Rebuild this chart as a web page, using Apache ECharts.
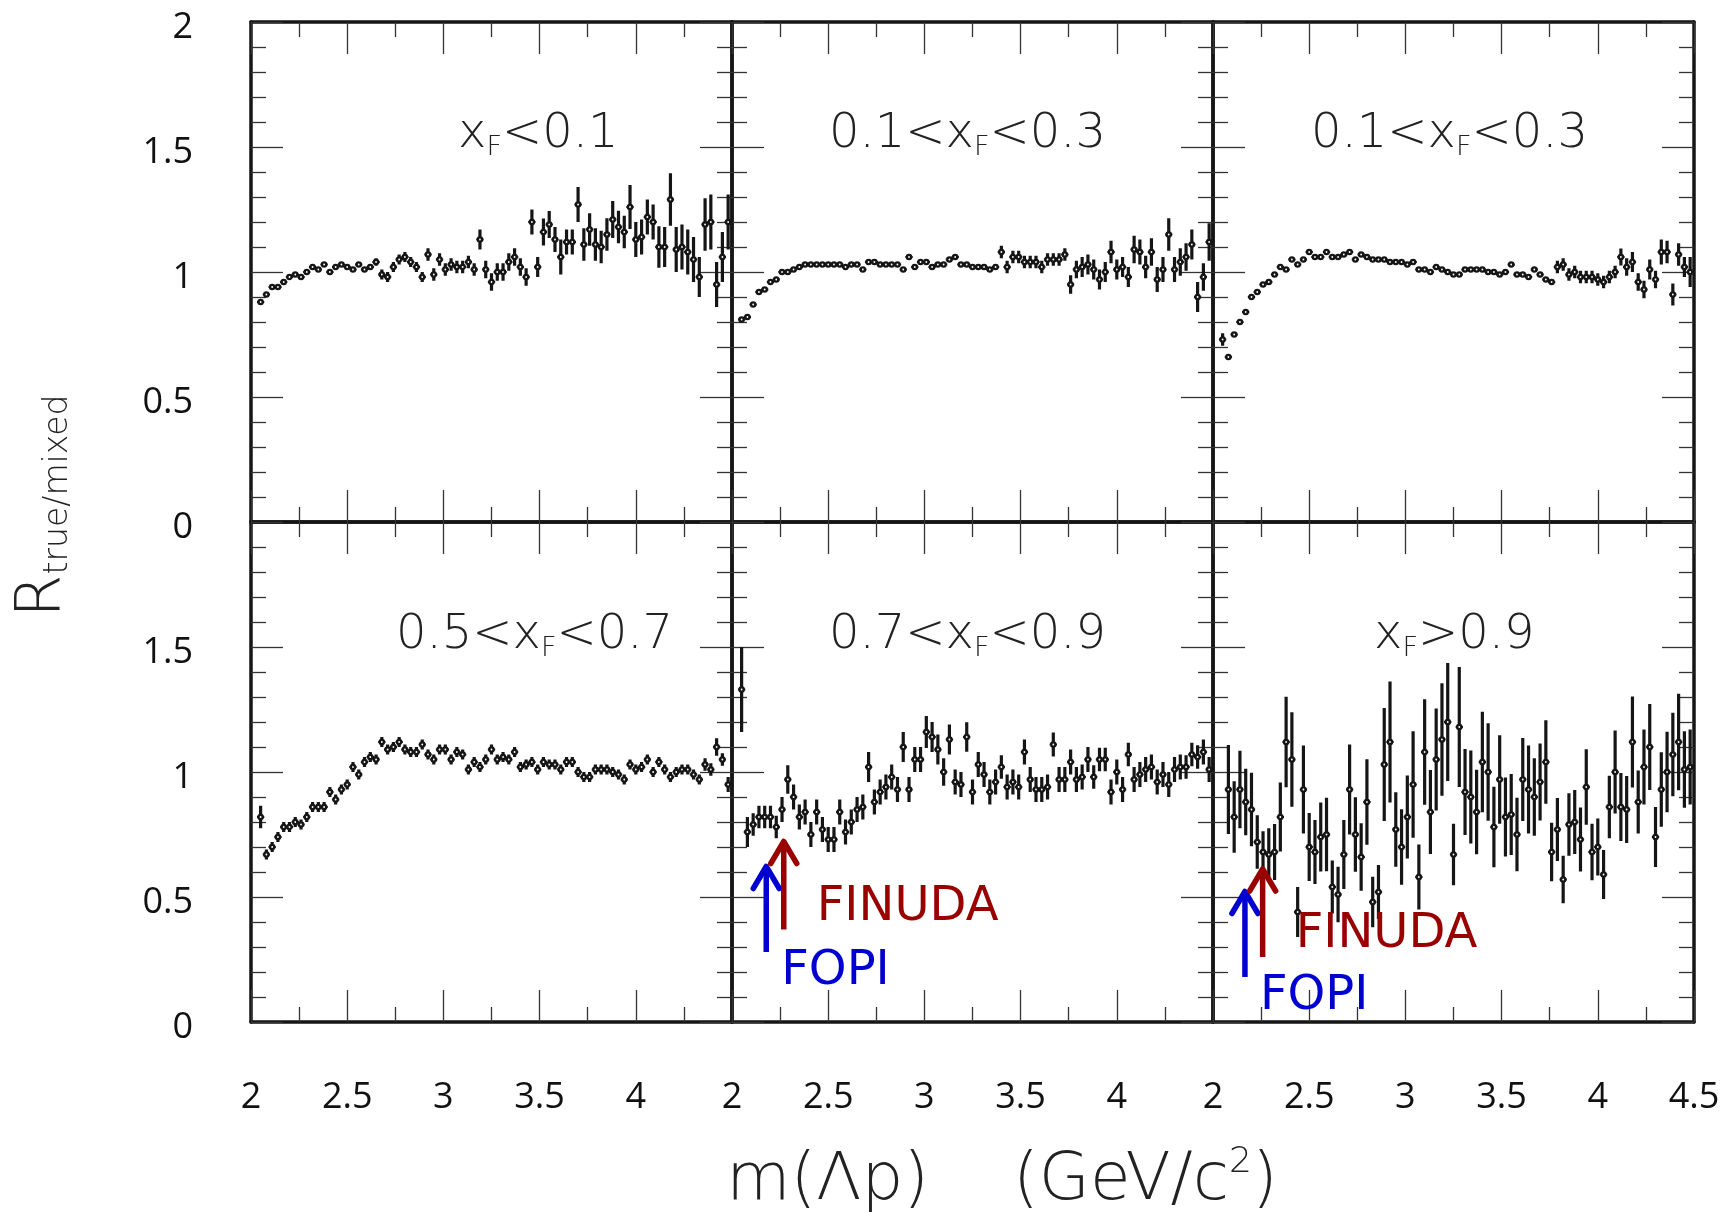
<!DOCTYPE html>
<html>
<head>
<meta charset="utf-8">
<script src="https://cdn.jsdelivr.net/npm/echarts@6/dist/echarts.min.js"></script>
<style>html,body{margin:0;padding:0;background:#fff}#c{width:1727px;height:1212px}</style>
</head>
<body>
<div id="c"></div>
<script>
// ---------------- DATA ----------------
const massBins = [2.05,2.08,2.11,2.14,2.17,2.20,2.23,2.26,2.29,2.32,2.35,2.38,2.41,2.44,2.47,2.50,2.53,2.56,2.59,2.62,2.65,2.68,2.71,2.74,2.77,2.80,2.83,2.86,2.89,2.92,2.95,2.98,3.01,3.04,3.07,3.10,3.13,3.16,3.19,3.22,3.25,3.28,3.31,3.34,3.37,3.40,3.43,3.46,3.49,3.52,3.55,3.58,3.61,3.64,3.67,3.70,3.73,3.76,3.79,3.82,3.85,3.88,3.91,3.94,3.97,4.00,4.03,4.06,4.09,4.12,4.15,4.18,4.21,4.24,4.27,4.30,4.33,4.36,4.39,4.42,4.45,4.48];

const xTickLabels = ['2','2.5','3','3.5','4','4.5'];
const yTickLabels = ['0','0.5','1','1.5','2'];

// panel titles: text before and after "x_F"
const panelTitlePre  = ['', '0.1<', '0.1<', '0.5<', '0.7<', ''];
const panelTitlePost = ['<0.1', '<0.3', '<0.3', '<0.7', '<0.9', '>0.9'];

const ratioXfLt01 = [0.88,0.91,0.94,0.94,0.96,0.98,0.99,0.98,1.00,1.02,1.01,1.03,1.00,1.02,1.03,1.02,1.01,1.03,1.01,1.02,1.04,0.99,0.98,1.02,1.05,1.06,1.04,1.02,0.98,1.07,0.99,1.05,1.01,1.03,1.02,1.02,1.04,1.01,1.13,1.01,0.96,1.00,1.00,1.04,1.06,1.02,0.98,1.20,1.02,1.16,1.19,1.13,1.06,1.12,1.12,1.27,1.11,1.17,1.11,1.10,1.15,1.21,1.18,1.16,1.26,1.13,1.14,1.22,1.20,1.10,1.10,1.29,1.09,1.10,1.08,1.05,0.98,1.19,1.20,0.95,1.06,1.20];
const errXfLt01 = [0.006,0.006,0.006,0.006,0.006,0.006,0.006,0.006,0.006,0.006,0.006,0.006,0.008,0.008,0.008,0.008,0.008,0.008,0.008,0.012,0.015,0.02,0.02,0.02,0.02,0.02,0.02,0.02,0.02,0.025,0.025,0.025,0.025,0.025,0.025,0.025,0.025,0.025,0.04,0.035,0.035,0.035,0.035,0.035,0.035,0.035,0.035,0.05,0.04,0.054,0.054,0.05,0.07,0.05,0.05,0.07,0.065,0.065,0.065,0.065,0.065,0.074,0.065,0.065,0.088,0.07,0.07,0.07,0.07,0.083,0.08,0.105,0.09,0.09,0.09,0.09,0.08,0.105,0.11,0.09,0.1,0.11];

const ratioXf0103a = [0.81,0.82,0.87,0.92,0.93,0.96,0.97,1.00,1.00,1.01,1.02,1.03,1.03,1.03,1.03,1.03,1.03,1.03,1.02,1.03,1.03,1.01,1.04,1.04,1.03,1.03,1.03,1.03,1.01,1.06,1.02,1.04,1.04,1.02,1.03,1.03,1.05,1.06,1.03,1.03,1.02,1.02,1.02,1.01,1.02,1.08,1.02,1.06,1.06,1.04,1.04,1.04,1.02,1.05,1.05,1.05,1.07,0.95,1.01,1.02,1.03,1.01,0.97,1.00,1.08,1.01,1.02,0.98,1.09,1.08,1.02,1.08,0.97,1.01,1.15,1.01,1.04,1.06,1.11,0.90,0.98,1.12];
const errXf0103a = [0.006,0.006,0.006,0.006,0.006,0.006,0.006,0.006,0.006,0.006,0.006,0.006,0.006,0.006,0.006,0.006,0.006,0.006,0.006,0.006,0.006,0.006,0.006,0.006,0.006,0.006,0.006,0.006,0.006,0.006,0.006,0.006,0.006,0.006,0.006,0.006,0.006,0.006,0.006,0.006,0.01,0.01,0.01,0.01,0.01,0.025,0.025,0.025,0.025,0.025,0.025,0.025,0.025,0.025,0.025,0.025,0.025,0.037,0.035,0.04,0.04,0.04,0.04,0.04,0.045,0.04,0.04,0.04,0.055,0.05,0.045,0.055,0.05,0.05,0.065,0.05,0.055,0.055,0.06,0.06,0.055,0.075];

const ratioXf0103b = [0.73,0.66,0.75,0.80,0.84,0.90,0.92,0.95,0.96,0.99,1.02,1.01,1.05,1.03,1.05,1.08,1.06,1.06,1.08,1.06,1.06,1.07,1.08,1.05,1.07,1.06,1.05,1.05,1.05,1.04,1.04,1.04,1.03,1.04,1.01,1.01,1.00,1.02,1.01,1.00,0.99,0.99,1.01,1.01,1.01,1.01,1.00,1.00,0.99,1.00,1.03,0.99,0.99,0.98,1.01,0.99,0.97,0.96,1.02,1.03,0.99,1.00,0.98,0.98,0.98,0.97,0.96,0.98,1.00,1.06,1.02,1.04,0.96,0.93,1.01,0.97,1.08,1.08,0.91,1.07,1.02,1.00];
const errXf0103b = [0.025,0.006,0.006,0.006,0.006,0.006,0.006,0.006,0.006,0.006,0.006,0.006,0.006,0.006,0.006,0.006,0.006,0.006,0.006,0.006,0.006,0.006,0.006,0.006,0.006,0.006,0.006,0.006,0.006,0.006,0.006,0.006,0.006,0.006,0.006,0.006,0.006,0.006,0.006,0.006,0.006,0.006,0.006,0.006,0.006,0.006,0.006,0.006,0.01,0.01,0.01,0.01,0.01,0.01,0.01,0.01,0.01,0.01,0.025,0.025,0.025,0.025,0.025,0.025,0.025,0.025,0.025,0.025,0.025,0.034,0.035,0.04,0.035,0.035,0.04,0.035,0.05,0.045,0.044,0.045,0.04,0.06];

const ratioXf0507 = [0.82,0.67,0.70,0.74,0.78,0.78,0.80,0.79,0.82,0.86,0.86,0.86,0.92,0.89,0.93,0.95,1.02,0.99,1.04,1.06,1.05,1.12,1.09,1.10,1.12,1.09,1.08,1.08,1.11,1.07,1.05,1.09,1.09,1.05,1.08,1.07,1.01,1.04,1.02,1.05,1.09,1.05,1.06,1.05,1.08,1.02,1.03,1.04,1.01,1.04,1.03,1.03,1.01,1.04,1.04,1.00,0.98,0.98,1.01,1.01,1.01,1.00,0.99,0.97,1.03,1.01,1.02,1.05,1.00,1.04,1.01,0.98,1.00,1.01,1.01,0.99,0.97,1.03,1.01,1.10,1.05,0.95];
const errXf0507 = [0.045,0.02,0.02,0.02,0.02,0.02,0.02,0.02,0.02,0.02,0.02,0.02,0.02,0.02,0.02,0.02,0.02,0.02,0.02,0.02,0.02,0.02,0.02,0.02,0.02,0.02,0.02,0.02,0.02,0.02,0.02,0.02,0.02,0.02,0.02,0.02,0.02,0.02,0.02,0.02,0.02,0.02,0.02,0.02,0.02,0.02,0.02,0.02,0.02,0.02,0.02,0.02,0.02,0.02,0.02,0.02,0.02,0.02,0.02,0.02,0.02,0.02,0.02,0.02,0.02,0.02,0.02,0.02,0.02,0.02,0.02,0.02,0.02,0.02,0.02,0.02,0.02,0.025,0.025,0.035,0.025,0.03];

const ratioXf0709 = [1.33,0.76,0.79,0.82,0.82,0.82,0.78,0.85,0.97,0.90,0.82,0.84,0.75,0.84,0.77,0.73,0.73,0.84,0.76,0.80,0.85,0.86,1.02,0.88,0.92,0.94,0.98,0.93,1.10,0.93,1.05,1.05,1.16,1.14,1.09,1.00,1.13,0.96,0.95,1.14,0.92,1.03,0.99,0.92,0.96,1.02,0.94,0.96,0.94,1.08,0.97,0.93,0.93,0.94,1.11,0.97,0.97,1.04,0.97,0.98,1.05,0.98,1.05,1.05,0.92,1.00,0.93,1.07,0.97,0.99,1.01,1.02,0.96,0.99,0.95,1.01,1.02,1.02,1.07,1.06,1.08,1.01];
const errXf0709 = [0.17,0.06,0.045,0.045,0.045,0.045,0.045,0.05,0.057,0.05,0.05,0.05,0.05,0.05,0.05,0.05,0.05,0.05,0.05,0.05,0.05,0.05,0.06,0.05,0.05,0.05,0.05,0.05,0.06,0.05,0.05,0.05,0.064,0.06,0.06,0.055,0.06,0.05,0.05,0.059,0.05,0.05,0.05,0.05,0.05,0.047,0.05,0.05,0.05,0.05,0.05,0.05,0.05,0.05,0.048,0.05,0.05,0.05,0.05,0.05,0.05,0.047,0.047,0.047,0.05,0.05,0.05,0.047,0.05,0.05,0.05,0.05,0.05,0.05,0.05,0.05,0.05,0.047,0.047,0.047,0.05,0.05];

const ratioXfGt09 = [null,0.93,0.82,0.93,0.88,0.85,0.72,0.68,0.67,0.68,0.82,1.12,1.05,0.44,0.93,0.70,0.68,0.74,0.75,0.54,0.51,0.67,0.93,0.75,0.66,0.88,0.48,0.52,1.03,1.12,0.77,0.70,0.82,0.95,0.58,1.08,0.84,1.05,1.13,1.20,0.67,1.18,0.92,0.90,0.84,1.04,1.00,0.78,0.97,0.82,0.83,0.75,0.97,0.93,0.90,0.96,1.04,0.68,0.77,0.57,0.79,0.80,0.73,0.94,0.68,0.70,0.59,0.86,1.00,0.86,0.85,1.12,0.88,1.02,1.10,0.74,0.93,1.00,1.07,1.12,1.01,1.02];
const errXfGt09 = [0,0.178,0.143,0.155,0.133,0.147,0.107,0.083,0.105,0.112,0.138,0.181,0.189,0.1,0.176,0.136,0.128,0.138,0.147,0.106,0.111,0.138,0.18,0.149,0.135,0.171,0.101,0.108,0.226,0.242,0.149,0.151,0.166,0.213,0.13,0.211,0.168,0.204,0.225,0.236,0.123,0.24,0.172,0.186,0.169,0.201,0.195,0.161,0.177,0.158,0.162,0.147,0.166,0.176,0.155,0.154,0.167,0.117,0.126,0.095,0.125,0.128,0.128,0.151,0.113,0.114,0.098,0.125,0.166,0.136,0.134,0.182,0.126,0.15,0.172,0.12,0.149,0.161,0.167,0.193,0.153,0.15];

// threshold arrows [mass, tail value, head value] for panels 0.7<xF<0.9 and xF>0.9
const fopiArrows   = [[2.178, 0.28, 0.63], [2.166, 0.18, 0.53]];
const finudaArrows = [[2.269, 0.37, 0.73], [2.258, 0.26, 0.62]];

// ---------------- LAYOUT / STYLE ----------------
const panelVals = [ratioXfLt01, ratioXf0103a, ratioXf0103b, ratioXf0507, ratioXf0709, ratioXfGt09];
const panelErrs = [errXfLt01, errXf0103a, errXf0103b, errXf0507, errXf0709, errXfGt09];
const colLeft = [251, 732, 1213];
const rowTop = [22, 522];
const panelW = 481, panelH = 500;
const titlePos = [[458,135],[829,135],[1311,135],[396,636],[829,636],[1374,636]];

const THIN = '"DejaVu Sans"';
const LABEL_FONT = '"Open Sans"';
const INK = '#151515';
const TICK = '#333';

const grids = [], xAxes = [], yAxes = [], series = [];
for (let g = 0; g < 6; g++) {
  const col = g % 3, row = Math.floor(g / 3);
  grids.push({left: colLeft[col], top: rowTop[row], width: panelW, height: panelH, containLabel: false});
  const frame = {show: true, onZero: false, lineStyle: {color: INK, width: 3.5}};
  const xBase = {
    type: 'value', gridIndex: g, min: 2, max: 4.5, interval: 0.5,
    axisLine: frame,
    axisTick: {show: true, inside: true, length: 32, lineStyle: {color: TICK, width: 1.3}},
    minorTick: {show: true, splitNumber: 2, length: 15, lineStyle: {color: TICK, width: 1.3}},
    splitLine: {show: false}, minorSplitLine: {show: false}
  };
  xAxes.push(Object.assign({}, xBase, {
    position: 'bottom',
    axisLabel: {show: row === 1, showMinLabel: true, showMaxLabel: col === 2, margin: 58,
      fontSize: 36, fontFamily: LABEL_FONT, color: '#111',
      formatter: v => xTickLabels[Math.round((v - 2) / 0.5)]}
  }));
  xAxes.push(Object.assign({}, xBase, {position: 'top', axisLabel: {show: false}}));
  const yBase = {
    type: 'value', gridIndex: g, min: 0, max: 2, interval: 0.5,
    axisLine: frame,
    axisTick: {show: true, inside: true, length: 32, lineStyle: {color: TICK, width: 1.3}},
    minorTick: {show: true, splitNumber: 5, length: 15, lineStyle: {color: TICK, width: 1.3}},
    splitLine: {show: false}, minorSplitLine: {show: false}
  };
  yAxes.push(Object.assign({}, yBase, {
    position: 'left',
    axisLabel: {show: col === 0, showMinLabel: true, showMaxLabel: row === 0, margin: 58,
      fontSize: 36, fontFamily: LABEL_FONT, color: '#111',
      rich: {a: {fontSize: 36, fontFamily: LABEL_FONT, color: '#111', padding: [11, 0, 0, 0]}},
      formatter: v => '{a|' + yTickLabels[Math.round(v / 0.5)] + '}'}
  }));
  yAxes.push(Object.assign({}, yBase, {position: 'right', axisLabel: {show: false}}));

  const data = [];
  massBins.forEach((m, i) => {
    const v = panelVals[g][i];
    if (v != null) data.push([m, v, panelErrs[g][i]]);
  });
  series.push({
    type: 'custom', xAxisIndex: 2 * g, yAxisIndex: 2 * g, clip: true, z: 5,
    data: data,
    renderItem: function (params, api) {
      const x = api.value(0), v = api.value(1), e = api.value(2);
      const c = api.coord([x, v]);
      const top = api.coord([x, v + e]);
      const bot = api.coord([x, v - e]);
      const l = api.coord([x - 0.019, v]);
      const r = api.coord([x + 0.019, v]);
      return {type: 'group', children: [
        {type: 'line', shape: {x1: c[0], y1: top[1], x2: c[0], y2: bot[1]}, style: {stroke: INK, lineWidth: 3.2}},
        {type: 'line', shape: {x1: l[0], y1: c[1], x2: r[0], y2: c[1]}, style: {stroke: INK, lineWidth: 2}},
        {type: 'circle', shape: {cx: c[0], cy: c[1], r: 2.1}, style: {fill: '#fff', stroke: INK, lineWidth: 2.4}}
      ]};
    }
  });
}

function arrowSeries(gridIdx, item, color, label, dx, dy) {
  return {
    type: 'custom', xAxisIndex: 2 * gridIdx, yAxisIndex: 2 * gridIdx, z: 6,
    data: [item],
    renderItem: function (params, api) {
      const t = api.coord([api.value(0), api.value(1)]);
      const h = api.coord([api.value(0), api.value(2)]);
      return {type: 'group', children: [
        {type: 'line', shape: {x1: t[0], y1: t[1], x2: h[0], y2: h[1] + 3}, style: {stroke: color, lineWidth: 5.5}},
        {type: 'polyline', shape: {points: [[h[0] - 13, h[1] + 24], [h[0], h[1] + 2], [h[0] + 13, h[1] + 24]]},
          style: {stroke: color, lineWidth: 5.5, fill: null, lineJoin: 'round', lineCap: 'round'}},
        {type: 'text', x: t[0] + dx, y: t[1] + dy,
          style: {text: label, fill: color, font: '48px "DejaVu Sans"', align: 'left', verticalAlign: 'middle'}}
      ]};
    }
  };
}
[4, 5].forEach((g, i) => {
  series.push(arrowSeries(g, fopiArrows[i], '#0000d0', 'FOPI', 15, 20));
  series.push(arrowSeries(g, finudaArrows[i], '#990000', 'FINUDA', 33, -22));
});

const thinRich = {
  n: {fontSize: 48, fontFamily: THIN, fontWeight: 200, fill: '#222', color: '#222', lineHeight: 52},
  s: {fontSize: 27, fontFamily: THIN, fontWeight: 200, fill: '#222', color: '#222', lineHeight: 10, verticalAlign: 'bottom'}
};
const graphics = titlePos.map((p, g) => ({
  type: 'text', x: p[0], y: p[1], z: 10,
  style: {
    text: (panelTitlePre[g] ? '{n|' + panelTitlePre[g] + '}' : '') + '{n|x}{s|F}{n|' + panelTitlePost[g] + '}',
    rich: thinRich, align: 'left', verticalAlign: 'middle'
  }
}));
graphics.push({
  type: 'text', x: 44, y: 506, rotation: Math.PI / 2, z: 10,
  style: {
    text: '{r|R}{s|true/mixed}',
    rich: {
      r: {fontSize: 62, fontFamily: THIN, fontWeight: 200, fill: '#222', lineHeight: 62},
      s: {fontSize: 33, fontFamily: THIN, fontWeight: 200, fill: '#222', lineHeight: 12, verticalAlign: 'bottom'}
    },
    align: 'center', verticalAlign: 'middle'
  }
});
graphics.push({
  type: 'text', x: 1002, y: 1182, z: 10,
  style: {
    text: '{n|m(\u039Bp)    (GeV/c}{p|2}{n|)}',
    rich: {
      n: {fontSize: 66, fontFamily: THIN, fontWeight: 200, fill: '#222', lineHeight: 74},
      p: {fontSize: 36, fontFamily: THIN, fontWeight: 200, fill: '#222', lineHeight: 30, verticalAlign: 'top'}
    },
    align: 'center', verticalAlign: 'middle'
  }
});

const chart = echarts.init(document.getElementById('c'), null, {renderer: 'canvas'});
chart.setOption({
  animation: false,
  backgroundColor: '#ffffff',
  grid: grids, xAxis: xAxes, yAxis: yAxes, series: series,
  graphic: graphics
});
</script>
</body>
</html>
